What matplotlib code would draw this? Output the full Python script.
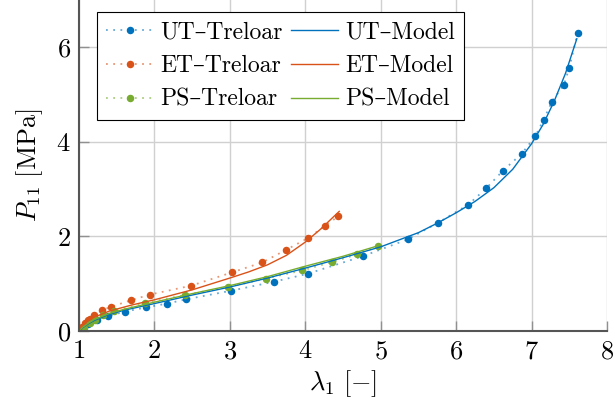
import matplotlib
matplotlib.use("Agg")
import matplotlib.pyplot as plt

plt.rcParams['font.family'] = ['cmr10', 'DejaVu Serif']
plt.rcParams['mathtext.fontset'] = 'cm'
plt.rcParams['axes.formatter.use_mathtext'] = True
plt.rcParams['axes.unicode_minus'] = False

# Treloar data
ut_lam = [1.0, 1.01, 1.12, 1.24, 1.39, 1.61, 1.89, 2.17, 2.42, 3.01, 3.58, 4.03, 4.76,
          5.36, 5.76, 6.16, 6.4, 6.62, 6.87, 7.05, 7.16, 7.27, 7.43, 7.5, 7.61]
ut_P = [0.0, 0.03, 0.14, 0.23, 0.32, 0.41, 0.5, 0.58, 0.67, 0.85, 1.04, 1.21, 1.58,
        1.94, 2.29, 2.67, 3.02, 3.39, 3.75, 4.12, 4.47, 4.85, 5.21, 5.57, 6.3]
et_lam = [1.0, 1.04, 1.08, 1.12, 1.14, 1.2, 1.31, 1.42, 1.69, 1.94, 2.49, 3.03, 3.43,
          3.75, 4.03, 4.26, 4.44]
et_P = [0.0, 0.09, 0.16, 0.24, 0.26, 0.33, 0.44, 0.51, 0.65, 0.77, 0.96, 1.24, 1.45,
        1.72, 1.96, 2.22, 2.43]
ps_lam = [1.0, 1.06, 1.14, 1.21, 1.32, 1.46, 1.87, 2.4, 2.98, 3.48, 3.96, 4.36, 4.69, 4.96]
ps_P = [0.0, 0.07, 0.16, 0.24, 0.33, 0.42, 0.59, 0.76, 0.93, 1.11, 1.28, 1.46, 1.62, 1.79]

# Model curves
utm_lam = [1.0, 1.05, 1.1, 1.2, 1.4, 1.6, 2.0, 2.5, 3.0, 3.5, 4.0, 4.5, 5.0, 5.5, 5.75,
           6.0, 6.25, 6.5, 6.75, 7.0, 7.15, 7.3, 7.45, 7.6]
utm_P = [0.0, 0.07, 0.13, 0.22, 0.35, 0.44, 0.58, 0.76, 0.93, 1.12, 1.33, 1.55, 1.78,
         2.08, 2.28, 2.50, 2.74, 3.03, 3.42, 3.96, 4.36, 4.86, 5.45, 6.18]
etm_lam = [1.0, 1.05, 1.1, 1.2, 1.4, 1.7, 2.0, 2.5, 3.0, 3.25, 3.5, 3.75, 4.0, 4.2, 4.45]
etm_P = [0.0, 0.11, 0.19, 0.29, 0.42, 0.55, 0.66, 0.87, 1.12, 1.25, 1.40, 1.60, 1.88,
         2.15, 2.53]
psm_lam = [1.0, 1.05, 1.1, 1.2, 1.4, 1.6, 2.0, 2.5, 3.0, 3.5, 4.0, 4.5, 4.96]
psm_P = [0.0, 0.08, 0.14, 0.24, 0.37, 0.46, 0.61, 0.79, 0.96, 1.15, 1.37, 1.58, 1.80]

blue, orange, green = '#0072BD', '#D95319', '#77AC30'

fig = plt.figure(figsize=(6.13, 4.09), dpi=100)
ax = fig.add_axes([79/613, 78/409, 528/613, 331/409])

handles = []
for lam, P, c in [(ut_lam, ut_P, blue), (et_lam, et_P, orange), (ps_lam, ps_P, green)]:
    l1, = ax.plot(lam, P, linestyle=(0, (1, 3)), color=c, lw=1.3, alpha=0.6)
    l2, = ax.plot(lam, P, linestyle='none', marker='o', ms=4.4, color=c, mec=c)
    handles.append((l1, l2))
mh = []
for lam, P, c in [(utm_lam, utm_P, blue), (etm_lam, etm_P, orange), (psm_lam, psm_P, green)]:
    l, = ax.plot(lam, P, color=c, lw=1.0)
    mh.append(l)

ax.set_xlim(1, 8)
ax.set_ylim(0, 7)
ax.set_xticks([1, 2, 3, 4, 5, 6, 7, 8])
ax.set_yticks([0, 2, 4, 6])
ax.grid(True, color='#d0d0d0', lw=1.0)
ax.set_axisbelow(True)
for s in ['top', 'right']:
    ax.spines[s].set_visible(False)
for s in ['left', 'bottom']:
    ax.spines[s].set_color('#555555')
    ax.spines[s].set_linewidth(1.5)
ax.tick_params(direction='in', length=7, width=1.0, color='#909090', labelsize=19, pad=6)
ax.set_xlabel(r'$\lambda_1\ [-]$', fontsize=19, labelpad=4)
ax.set_ylabel(r'$P_{11}\ [\mathrm{MPa}]$', fontsize=19, labelpad=8)

labels = ['UT–Treloar', 'ET–Treloar', 'PS–Treloar', 'UT–Model', 'ET–Model', 'PS–Model']
leg = ax.legend(handles + mh, labels, ncol=2, loc='upper left',
                bbox_to_anchor=((97-79)/528, 1-12/331), borderaxespad=0,
                fontsize=17, fancybox=False, framealpha=1, edgecolor='black',
                handlelength=2.0, handletextpad=0.3, columnspacing=0.35,
                labelspacing=0.5, borderpad=0.38)
leg.get_frame().set_linewidth(0.8)

fig.savefig('out.png', dpi=100)
